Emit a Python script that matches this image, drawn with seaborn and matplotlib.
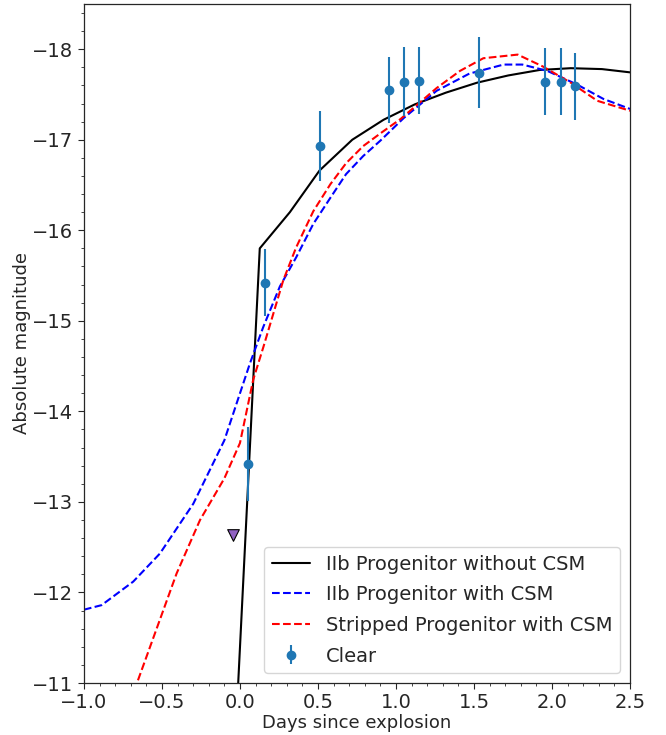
import numpy as np
import pandas as pd
import matplotlib
matplotlib.use("Agg")
import matplotlib.pyplot as plt
import seaborn as sns

# ---- data ----
nocsm_x = [-0.04, 0.127, 0.32, 0.51, 0.72, 0.92, 1.12, 1.32, 1.52, 1.72, 1.92, 2.12, 2.32, 2.52]
nocsm_y = [-10.0, -15.80, -16.20, -16.66, -17.00, -17.22, -17.39, -17.52, -17.63, -17.71, -17.77, -17.79, -17.78, -17.74]

iib_csm_x = [-1.0, -0.887, -0.684, -0.513, -0.299, -0.10, -0.021, 0.064, 0.149, 0.256, 0.36, 0.47,
             0.58, 0.68, 0.79, 0.90, 1.05, 1.26, 1.47, 1.69, 1.81, 1.97, 2.16, 2.33, 2.5]
iib_csm_y = [-11.81, -11.86, -12.12, -12.43, -12.98, -13.68, -14.09, -14.53, -14.93, -15.38, -15.70, -16.07,
             -16.36, -16.62, -16.82, -16.99, -17.24, -17.54, -17.73, -17.83, -17.83, -17.76, -17.61, -17.45, -17.34]

strip_csm_x = [-0.70, -0.66, -0.513, -0.406, -0.256, -0.10, 0.0, 0.085, 0.15, 0.214, 0.278, 0.36, 0.47,
               0.58, 0.68, 0.79, 0.90, 1.03, 1.26, 1.41, 1.56, 1.78, 1.94, 2.12, 2.29, 2.5]
strip_csm_y = [-10.8, -11.0, -11.70, -12.21, -12.80, -13.26, -13.65, -14.35, -14.71, -15.08, -15.45, -15.81, -16.21,
               -16.51, -16.74, -16.93, -17.07, -17.23, -17.57, -17.76, -17.90, -17.94, -17.81, -17.63, -17.43, -17.32]

clear_x = [0.051, 0.16, 0.51, 0.955, 1.05, 1.15, 1.53, 1.955, 2.06, 2.15]
clear_y = [-13.42, -15.42, -16.93, -17.55, -17.64, -17.65, -17.74, -17.64, -17.64, -17.59]
clear_err = [0.41, 0.37, 0.39, 0.36, 0.38, 0.37, 0.39, 0.37, 0.37, 0.37]

limit_x = [-0.045]
limit_y = [-12.63]

labels = ["IIb Progenitor without CSM", "IIb Progenitor with CSM", "Stripped Progenitor with CSM", "Clear"]

# ---- plot ----
sns.set_style("ticks")
plt.rcParams['font.family'] = ['DejaVu Sans']

fig = plt.figure(figsize=(6.66, 7.35), dpi=100)
ax = fig.add_axes([0.126, 0.0707, 0.82, 0.924])

df1 = pd.DataFrame({"x": nocsm_x, "y": nocsm_y})
df2 = pd.DataFrame({"x": iib_csm_x, "y": iib_csm_y})
df3 = pd.DataFrame({"x": strip_csm_x, "y": strip_csm_y})

sns.lineplot(data=df1, x="x", y="y", sort=False, estimator=None, color="black", lw=1.5, ax=ax, label=labels[0])
sns.lineplot(data=df2, x="x", y="y", sort=False, estimator=None, color="blue", lw=1.5, ls="--", ax=ax, label=labels[1])
sns.lineplot(data=df3, x="x", y="y", sort=False, estimator=None, color="red", lw=1.5, ls="--", ax=ax, label=labels[2])

ax.errorbar(clear_x, clear_y, yerr=clear_err, fmt="o", color="#1f77b4", ms=6, lw=1.5, label=labels[3])
ax.scatter(limit_x, limit_y, marker="v", s=70, color="#9061c2", edgecolor="black", linewidth=0.8, zorder=3)

ax.set_xlim(-1.0, 2.5)
ax.set_ylim(-11, -18.5)
ax.set_xlabel("Days since explosion", fontsize=13, labelpad=1)
ax.set_ylabel("Absolute magnitude", fontsize=13, labelpad=1)
ax.minorticks_on()
ax.tick_params(axis="both", which="major", labelsize=14, length=4, direction="out")
ax.tick_params(axis="both", which="minor", length=2)
for s in ax.spines.values():
    s.set_visible(True)
    s.set_linewidth(0.9)

h, l = ax.get_legend_handles_labels()
hs = [None] * 4
for hh, ll in zip(h, l):
    hs[labels.index(ll)] = hh
ax.legend(hs, labels, loc="lower right", fontsize=14, frameon=True, labelspacing=0.6)

fig.savefig("out.png", dpi=100)
